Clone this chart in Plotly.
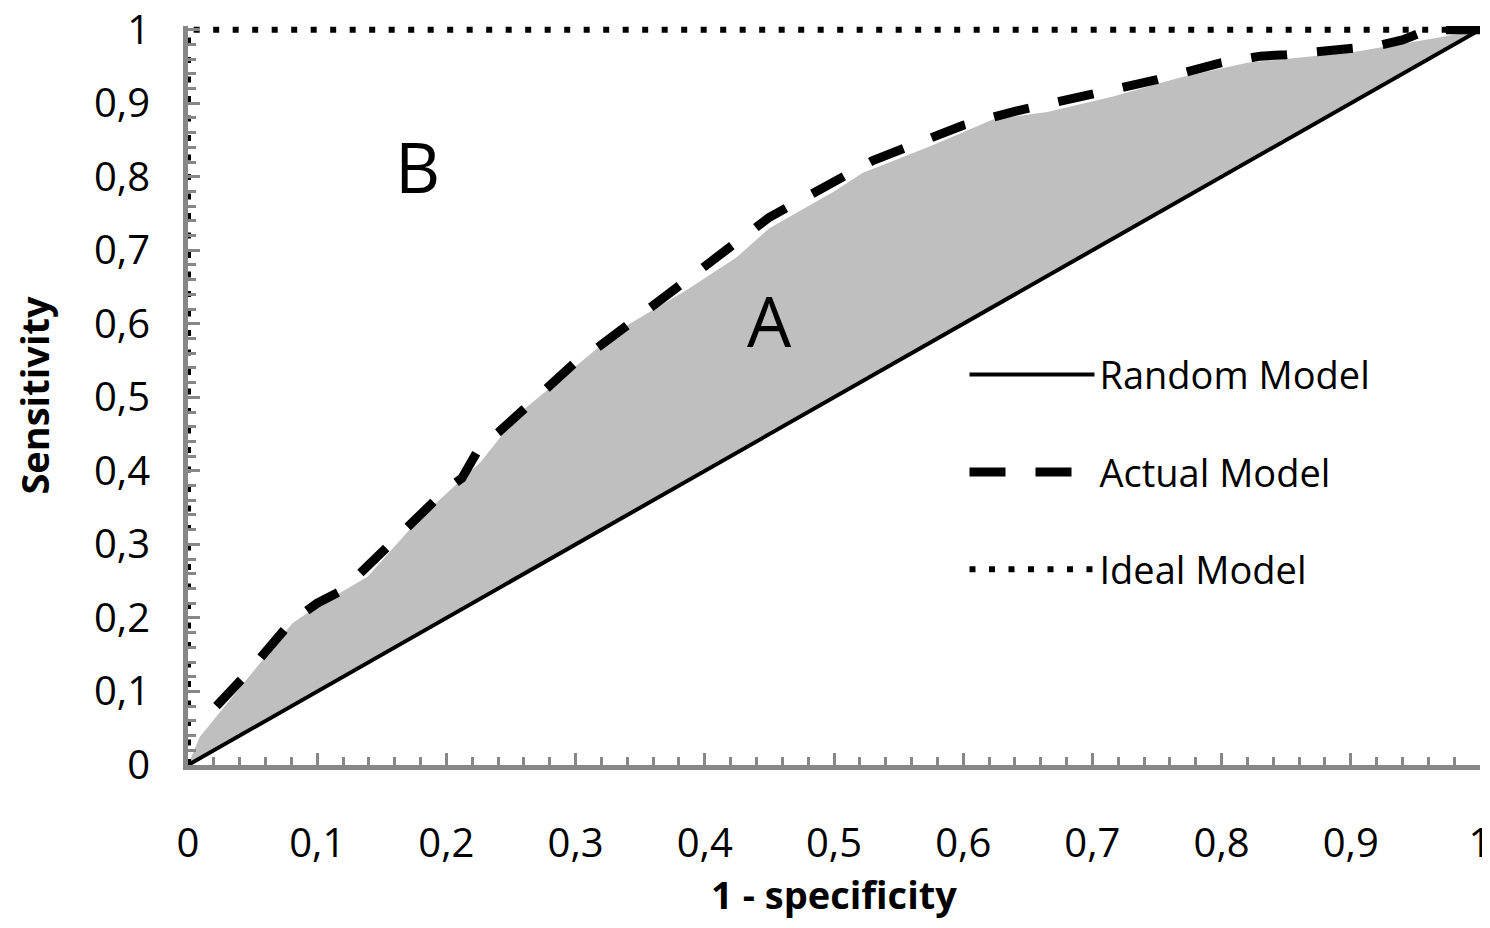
import plotly.graph_objects as go

# ---------------- data ----------------
random_x = [0.0, 1.0]
random_y = [0.0, 1.0]

actual_x = [0.022, 0.045, 0.08, 0.10, 0.12, 0.13, 0.20, 0.212, 0.225, 0.24, 0.30, 0.315, 0.325,
            0.45, 0.52, 0.53, 0.60, 0.62, 0.64, 0.75, 0.80, 0.83, 0.85, 0.92, 0.94, 0.96, 1.0]
actual_y = [0.080, 0.123, 0.195, 0.220, 0.238, 0.255, 0.375, 0.390, 0.430, 0.452, 0.548, 0.565, 0.578,
            0.745, 0.810, 0.822, 0.870, 0.880, 0.889, 0.932, 0.955, 0.964, 0.966, 0.978, 0.986, 1.0, 1.0]

area_x = [0.0, 0.009, 0.062, 0.081, 0.102, 0.139, 0.18, 0.226, 0.257, 0.334, 0.386, 0.425, 0.45,
          0.50, 0.522, 0.574, 0.623, 0.665, 0.716, 0.768, 0.82, 0.90, 0.967, 1.0]
area_y = [0.0, 0.038, 0.152, 0.193, 0.218, 0.256, 0.337, 0.411, 0.479, 0.592, 0.646, 0.691, 0.730,
          0.780, 0.805, 0.841, 0.878, 0.888, 0.909, 0.935, 0.955, 0.969, 0.989, 1.0]

ideal_x = [0.0, 0.0, 1.0]
ideal_y = [0.0, 1.0, 1.0]

tick_vals = [0.0, 0.1, 0.2, 0.3, 0.4, 0.5, 0.6, 0.7, 0.8, 0.9, 1.0]
tick_text = ["0", "0,1", "0,2", "0,3", "0,4", "0,5", "0,6", "0,7", "0,8", "0,9", "1"]

labels = [("B", 0.178, 0.814), ("A", 0.450, 0.605)]

# ---------------- figure ----------------
FONT = "Open Sans"
AXIS_GRAY = "#878787"

fig = go.Figure()

fig.add_trace(go.Scatter(
    x=area_x, y=area_y, mode="lines", fill="toself",
    fillcolor="#bfbfbf", line=dict(width=0, color="#bfbfbf"),
    showlegend=False, hoverinfo="skip"))

fig.add_trace(go.Scatter(
    x=random_x, y=random_y, mode="lines", name="Random Model",
    line=dict(color="black", width=4), legendgroup="g1"))

fig.add_trace(go.Scatter(
    x=actual_x, y=actual_y, mode="lines", name="Actual Model",
    line=dict(color="black", width=9, dash="36px,30px"), legendgroup="g2"))

fig.add_trace(go.Scatter(
    x=ideal_x, y=ideal_y, mode="lines", name="Ideal Model",
    line=dict(color="black", width=6, dash="6px,13.5px"), legendgroup="g3"))

for txt, lx, ly in labels:
    fig.add_annotation(x=lx, y=ly, text=txt, showarrow=False,
                       font=dict(family=FONT, size=70, color="black"))

axis_common = dict(
    showgrid=False, zeroline=False, showline=True, linecolor=AXIS_GRAY, linewidth=5,
    ticks="inside", ticklen=12, tickwidth=2.5, tickcolor=AXIS_GRAY,
    tickmode="array", tickvals=tick_vals, ticktext=tick_text,
    tickfont=dict(family=FONT, size=40, color="black"),
    ticklabeloverflow="allow",
    minor=dict(tickmode="linear", tick0=0, dtick=0.02, ticks="inside",
               ticklen=8, tickwidth=2.5, tickcolor=AXIS_GRAY),
    automargin=False,
)

fig.update_xaxes(range=[0, 1], ticklabelstandoff=39,
                 title=dict(text="<b>1 - specificity</b>", standoff=26,
                            font=dict(family=FONT, size=38, color="black")),
                 **axis_common)
fig.update_yaxes(range=[0, 1.005], ticklabelstandoff=25,
                 title=dict(text="<b>Sensitivity</b>", standoff=43,
                            font=dict(family=FONT, size=38, color="black")),
                 **axis_common)

# page body has an 8px default margin: figure is sized/offset to compensate
fig.update_layout(
    width=1482, height=912,
    margin=dict(l=180, r=10, t=18, b=155),
    plot_bgcolor="white", paper_bgcolor="white",
    font=dict(family=FONT, color="black"),
    legend=dict(x=0.601, y=0.396, xanchor="left", yanchor="middle",
                bgcolor="rgba(0,0,0,0)", itemwidth=125, tracegroupgap=45,
                traceorder="grouped",
                font=dict(family=FONT, size=38, color="black")),
)

fig.write_html("out.html")
